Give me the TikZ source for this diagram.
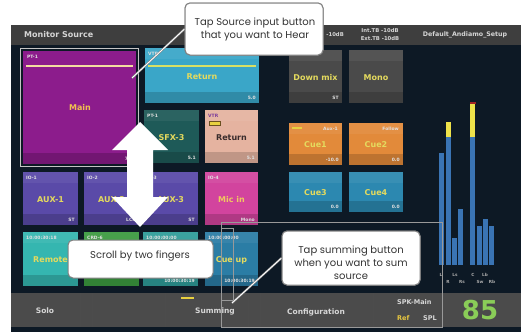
\documentclass[tikz,border=0pt]{standalone}
\usepackage{fontspec}
\setmainfont{DejaVu Sans}
\newfontfamily\uifont{DejaVu Sans}
\newfontfamily\notefont{Poppins}
\definecolor{screenbg}{HTML}{0D1925}
\definecolor{headgrey}{HTML}{3E3E3E}
\definecolor{bargrey}{HTML}{4B4B4B}
\definecolor{tileyellow}{HTML}{E4DA5E}
\definecolor{mainpurple}{HTML}{8C1C8C}
\definecolor{mainline}{HTML}{F2DCA0}
\definecolor{mainlabel}{HTML}{F0C050}
\definecolor{retcyan}{HTML}{3AA6C8}
\definecolor{retline}{HTML}{D8E064}
\definecolor{sfxteal}{HTML}{1E5A58}
\definecolor{salmon}{HTML}{E5B3A0}
\definecolor{vtrpurple}{HTML}{7A3A9A}
\definecolor{darkbrown}{HTML}{3A2C2C}
\definecolor{markyellow}{HTML}{E8D040}
\definecolor{markedge}{HTML}{6A5020}
\definecolor{micyellow}{HTML}{F0C860}
\definecolor{mixgrey}{HTML}{4A4A4A}
\definecolor{cueorange}{HTML}{E28A3A}
\definecolor{cueblue}{HTML}{2C88B0}
\definecolor{iopurple}{HTML}{5A4AA8}
\definecolor{micpink}{HTML}{D2449E}
\definecolor{remcyan}{HTML}{35B6B0}
\definecolor{crdgreen}{HTML}{3C9B40}
\definecolor{tcteal}{HTML}{2F9D9A}
\definecolor{cueupblue}{HTML}{2B7DA5}
\definecolor{meterblue}{HTML}{3A74B4}
\definecolor{meteryellow}{HTML}{EEE24A}
\definecolor{meterred}{HTML}{A02424}
\definecolor{splgreen}{HTML}{8ACD58}
\definecolor{refyellow}{HTML}{E8C840}
\definecolor{calloutgrey}{HTML}{808080}
\definecolor{uilight}{HTML}{D6D6D6}
\definecolor{selframe}{HTML}{C4C4C4}

\tikzset{
  tiletop/.style={font=\uifont\bfseries\fontsize{4.5}{5}\selectfont, text=white!88!black, inner sep=0pt},
  tilebot/.style={tiletop},
  tilemain/.style={font=\uifont\bfseries\fontsize{8}{9}\selectfont, text=tileyellow, inner sep=0pt},
  headtext/.style={font=\uifont\bfseries\fontsize{5.3}{6}\selectfont, text=uilight, inner sep=0pt},
  barlabel/.style={font=\uifont\bfseries\fontsize{7.5}{9}\selectfont, text=uilight, inner sep=0pt},
  meterlabel/.style={font=\uifont\bfseries\fontsize{4.2}{5}\selectfont, text=uilight!80!black, inner sep=0pt},
  callout/.style={draw=calloutgrey, line width=1pt, fill=white, rounded corners=5pt, inner sep=0pt},
  calltext/.style={font=\notefont\fontsize{10}{13}\selectfont, align=center, text=black!80, inner sep=0pt},
  pointer/.style={draw=calloutgrey, double=white, double distance=0.9pt, line width=0.6pt},
  divider/.style={draw=black!70, line width=0.6pt},
  guideline/.style={draw=white!60!black, line width=0.4pt},
}

% one source tile: name, x1, y1, x2, y2, colour, top label, main label, bottom label
\newcommand\scrtile[9]{%
  \fill[#6] (#2,#3) rectangle (#4,#5);
  \fill[black,opacity=0.16] (#2,{#5-11}) rectangle (#4,#5);
  \fill[white,opacity=0.06] (#2,#3) rectangle (#4,{#3+11});
  \node[tilemain] (#1) at ({(#2+#4)/2},{(#3+#5)/2+1}) {#8};
  \node[tiletop,anchor=west] (#1-top) at ({#2+3},{#3+5.5}) {#7};
  \node[tilebot,anchor=east] (#1-bot) at ({#4-3},{#5-5.5}) {#9};
}

\begin{document}
\begin{tikzpicture}[x=1pt,y=-1pt]
\useasboundingbox (0,0) rectangle (521,332);
\fill[white] (0,0) rectangle (521,332);

% screen and header
\fill[screenbg] (11,25) rectangle (521,332);
\fill[headgrey] (11,25) rectangle (521,45);
\node[font=\uifont\bfseries\fontsize{8}{9}\selectfont, text=uilight, anchor=west, inner sep=0pt] (title) at (24,35) {Monitor Source};
\node[headtext, anchor=east] (tbhidden) at (344,35) {-10dB};
\node[headtext] (inttb) at (380,30.5) {Int.TB -10dB};
\node[headtext] (exttb) at (380,39) {Ext.TB -10dB};
\node[font=\uifont\bfseries\fontsize{6.3}{7}\selectfont, text=uilight, inner sep=0pt] (setup) at (465,35) {Default\_Andiamo\_Setup};

% selected main tile
\draw[selframe, line width=1pt] (20.5,48.5) rectangle (138.5,166.5);
\fill[mainpurple] (23,51) rectangle (136,164);
\fill[black,opacity=0.18] (23,153) rectangle (136,164);
\draw[mainline, line width=1.6pt] (26,66) -- (133,66);
\node[tiletop, anchor=west] (main-top) at (27,57) {PT-1};
\node[tilemain, text=mainlabel] (main) at (80,108) {Main};
\node[tilebot, anchor=east] (main-bot) at (133,159) {7.1};

% source tiles
\scrtile{rettop}{145}{48}{259}{103}{retcyan}{VTR}{Return}{5.0}
\draw[retline, line width=1.4pt] (148,66) -- (256,66);
\scrtile{sfx}{144}{110}{199}{163}{sfxteal}{PT-1}{SFX-3}{5.1}
\scrtile{retsal}{205}{110}{258}{163}{salmon}{\color{vtrpurple}VTR}{\color{darkbrown}Return}{5.1}
\fill[markyellow] (209,121) rectangle (220,125);
\draw[markedge, line width=0.4pt] (209,121) rectangle (220,125);

\scrtile{io1}{23}{172}{78}{225}{iopurple}{IO-1}{AUX-1}{ST}
\scrtile{io2}{84}{172}{139}{225}{iopurple}{IO-2}{AUX-2}{LCR}
\scrtile{io3}{143}{172}{198}{225}{iopurple}{IO-3}{AUX-3}{ST}
\scrtile{io4}{205}{172}{258}{225}{micpink}{IO-4}{\color{micyellow}Mic in}{Mono}

\scrtile{remote}{23}{232}{78}{286}{remcyan}{10:00:30:18}{Remote}{}
\scrtile{crd}{84}{232}{139}{286}{crdgreen}{CRD-6}{}{}
\scrtile{tc}{143}{232}{198}{286}{tcteal}{10:00:00:00}{}{10:00:30:19}
\scrtile{cueup}{205}{232}{258}{286}{cueupblue}{10:00:00:00}{Cue up}{10:00:30:19}

% monitor function tiles
\scrtile{downmix}{289}{50}{342}{103}{mixgrey}{}{Down mix}{ST}
\scrtile{mono}{349}{50}{403}{103}{mixgrey}{}{Mono}{}
\scrtile{cue1}{289}{123}{342}{165}{cueorange}{}{Cue1}{-10.0}
\node[tiletop, anchor=east] (cue1-src) at (338,128.5) {Aux-1};
\fill[markyellow] (292,126.5) rectangle (302,128.5);
\scrtile{cue2}{349}{123}{403}{165}{cueorange}{}{Cue2}{0.0}
\node[tiletop, anchor=east] (cue2-src) at (399,128.5) {Follow};
\scrtile{cue3}{289}{172}{342}{212}{cueblue}{}{Cue3}{0.0}
\scrtile{cue4}{349}{172}{403}{212}{cueblue}{}{Cue4}{0.0}

% level meters
\fill[meterblue] (439,153) rectangle (444,265);
\fill[meterblue] (446,137) rectangle (451,265);
\fill[meteryellow] (446,122) rectangle (451,137);
\fill[meterblue] (452,238) rectangle (457,265);
\fill[meterblue] (458,209) rectangle (463,265);
\fill[meterblue] (470,137) rectangle (475,265);
\fill[meteryellow] (470,104) rectangle (475,137);
\fill[meterred] (469.5,101.5) rectangle (475.5,104);
\fill[meterblue] (477,226) rectangle (482,265);
\fill[meterblue] (483,219) rectangle (488,265);
\fill[meterblue] (489,226) rectangle (494,265);
\node[meterlabel] (mL) at (441,275) {L};
\node[meterlabel] (mLs) at (455,275) {Ls};
\node[meterlabel] (mR) at (448,282) {R};
\node[meterlabel] (mRs) at (462,282) {Rs};
\node[meterlabel] (mC) at (473,275) {C};
\node[meterlabel] (mLb) at (485,275) {Lb};
\node[meterlabel] (mSw) at (480,282) {Sw};
\node[meterlabel] (mRb) at (492,282) {Rb};

% bottom button bar
\fill[bargrey] (11,293) rectangle (521,327);
\foreach \dx in {80,92,165,248,260,373}
  \draw[divider] (\dx,293) -- (\dx,327);
\node[barlabel] (solo) at (45,311) {Solo};
\node[barlabel] (summing) at (215,311) {Summing};
\draw[markyellow, line width=2pt] (181,298) -- (194,298);
\node[barlabel] (config) at (316,312) {Configuration};
\node[font=\uifont\bfseries\fontsize{6.5}{7}\selectfont, text=uilight, anchor=west, inner sep=0pt] (spk) at (397,302.5) {SPK-Main};
\node[font=\uifont\bfseries\fontsize{6.5}{7}\selectfont, text=refyellow, anchor=west, inner sep=0pt] (ref) at (397,318.5) {Ref};
\node[font=\uifont\bfseries\fontsize{6.5}{7}\selectfont, text=uilight, anchor=west, inner sep=0pt] (spl) at (423,318.5) {SPL};
\node[font=\uifont\bfseries\fontsize{26}{28}\selectfont, text=splgreen, inner sep=0pt] (spl85) at (480,310) {85};

% guide frame around the summing area
\draw[guideline] (221,222) -- (442,222) -- (442,327) -- (221,327) -- cycle;
\draw[guideline] (221,228) -- (233,228) -- (233,300) -- (221,300);

% two-finger scroll arrow
\fill[white] (140,122) -- (168,150) -- (153,150) -- (153,197) -- (168,197)
  -- (140,227) -- (112,197) -- (127,197) -- (127,150) -- (112,150) -- cycle;

% callouts
\coordinate (srcpt) at (132,78);
\coordinate (sumpt) at (232,303);
\node[callout, minimum width=138pt, minimum height=52pt] (c1) at (254,29) {};
\draw[pointer] (c1.west) -- (srcpt);
\node[callout, minimum width=138pt, minimum height=52pt] (c1b) at (254,29) {};
\node[calltext] (c1t) at (255,29.5) {Tap Source input button\\that you want to Hear};

\node[callout, minimum width=145pt, minimum height=38pt] (c2) at (140.5,259) {};
\node[calltext] (c2t) at (140,256) {Scroll by two fingers};

\node[callout, minimum width=138pt, minimum height=54pt] (c3) at (351,258) {};
\draw[pointer] (c3.west) -- (sumpt);
\node[callout, minimum width=138pt, minimum height=54pt] (c3b) at (351,258) {};
\node[calltext] (c3t) at (351,263) {Tap summing button\\when you want to sum\\source};
\end{tikzpicture}
\end{document}
